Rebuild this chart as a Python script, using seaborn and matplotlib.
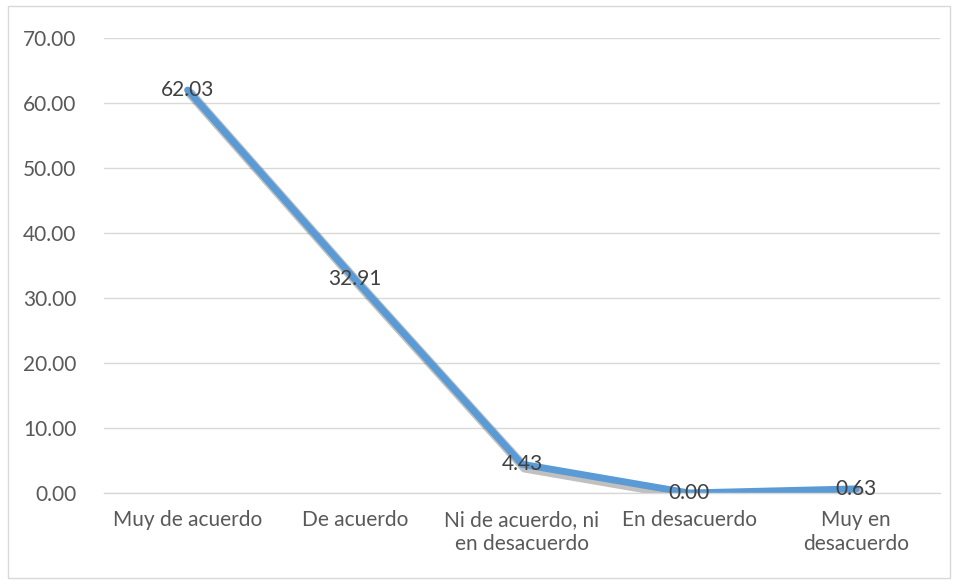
import seaborn as sns
import matplotlib.pyplot as plt
import matplotlib.patheffects as pe
from matplotlib.patches import Rectangle

categories = ["Muy de acuerdo", "De acuerdo", "Ni de acuerdo, ni\nen desacuerdo",
              "En desacuerdo", "Muy en\ndesacuerdo"]
values = [62.03, 32.91, 4.43, 0.00, 0.63]
y_ticks = [0, 10, 20, 30, 40, 50, 60, 70]

sns.set_style("white")
plt.rcParams['font.family'] = ['Lato', 'DejaVu Sans']

fig = plt.figure(figsize=(9.58, 5.8), dpi=100)
ax = fig.add_axes([0.1086, 0.15, 0.8724, 0.784])

xs = list(range(len(categories)))
sns.lineplot(x=xs, y=values, ax=ax, color="#5B9BD5", linewidth=5,
             path_effects=[pe.SimpleLineShadow(offset=(2, -2.5), alpha=0.3, shadow_color="#303030",
                                               linewidth=7),
                           pe.Normal()])

for x, v in zip(xs, values):
    ax.text(x, v, f"{v:.2f}", ha="center", va="center", fontsize=15, color="#404040")

ax.set_xlim(-0.5, len(categories) - 0.5)
ax.set_ylim(0, 70)
ax.set_yticks(y_ticks)
ax.set_yticklabels([f"{t:.2f}" for t in y_ticks])
ax.set_xticks(xs)
ax.set_xticklabels(categories, linespacing=1.3)
ax.tick_params(axis="both", labelsize=15, colors="#595959", length=0)
ax.tick_params(axis="y", pad=20)
ax.tick_params(axis="x", pad=12)
ax.yaxis.grid(True, color="#D9D9D9", linewidth=1)
ax.set_axisbelow(True)
for side in ["top", "right", "left"]:
    ax.spines[side].set_visible(False)
ax.spines["bottom"].set_color("#D9D9D9")
ax.spines["bottom"].set_linewidth(1)
ax.set_xlabel("")
ax.set_ylabel("")

fig.patches.append(Rectangle((0.008, 0.004), 0.984, 0.986, transform=fig.transFigure,
                             fill=False, edgecolor="#D9D9D9", linewidth=1))

fig.savefig("out.png", dpi=100)
